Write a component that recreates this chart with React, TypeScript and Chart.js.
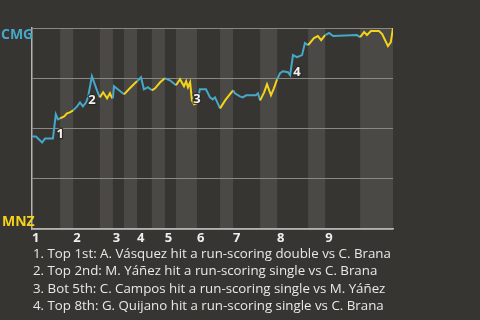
import React, { useEffect, useRef } from "react";
import { Chart, registerables } from "chart.js";

Chart.register(...registerables);

// Play progress (0..100 across the game) and CMG win probability (%)
const playX = [
  0, 1.1, 2.8, 3.6, 5.8, 6.6, 7.2, 7.8, 8.9, 9.7, 10.5, 11.4, 12.5, 13.3, 14.1, 15.0, 15.5, 16.6, 18.0,
  18.8, 19.7, 20.8, 21.6, 22.2, 22.4, 22.7, 24.1, 25.5, 27.1, 28.5, 29.1, 30.2, 31.0, 32.1, 33.2, 34.1,
  35.5, 36.8, 38.2, 39.9, 41.0, 42.1, 42.7, 43.2, 43.8, 44.3, 44.9, 45.7, 46.5, 48.2, 49.3, 50.1, 50.7,
  52.1, 53.5, 54.8, 55.7, 56.2, 57.6, 58.4, 59.3, 62.0, 62.6, 63.2, 64.3, 65.1, 66.2, 67.0, 67.9, 68.7,
  69.5, 70.9, 71.5, 72.3, 73.4, 74.8, 75.6, 76.5, 78.1, 79.2, 80.1, 81.2, 82.3, 83.4, 90.0, 90.9, 92.0,
  92.8, 93.9, 96.1, 97.0, 98.6, 99.4, 100,
];
const winProbCMG = [
  46, 46, 43, 45, 45, 57, 54.5, 55, 56, 57.5, 58, 59, 61, 63, 61, 63, 65.5, 76, 69,
  65.5, 68, 65, 67.5, 65, 65, 71, 69, 67, 70, 72.5, 73.5, 75.5, 69.5, 70.5, 69, 70,
  73, 75, 74, 71.5, 74.5, 71, 73.5, 70.5, 73, 64, 62, 62.5, 69.5, 69.5, 65.5, 64.5, 65.5,
  60, 64, 67, 69, 67.5, 66, 65.5, 66.5, 66.5, 67.5, 64, 68, 72, 66.5, 70, 74.5, 77.5,
  78.5, 78, 76.5, 86.5, 85.5, 86.5, 92.5, 91.5, 95, 96, 94, 96.5, 97.5, 96, 96.5, 95.5, 98,
  96.5, 98.5, 98.5, 97, 91, 93, 100,
];

// Half innings (bottom halves are shaded)
const bottomHalfStart = [7.8, 18.8, 25.5, 33.2, 39.9, 52.1, 63.2, 76.5, 90.9];
const bottomHalfEnd = [11.4, 22.4, 29.1, 36.8, 45.7, 55.7, 67.9, 81.2, 100];
const inningStart = [0, 11.4, 22.4, 29.1, 36.8, 45.7, 55.7, 67.9, 81.2];
const inningLabels = ["1", "2", "3", "4", "5", "6", "7", "8", "9"];

const teamTop = "CMG";
const teamBottom = "MNZ";

// Scoring events
const eventLabels = ["1", "2", "3", "4"];
const eventX = [7.8, 16.6, 45.7, 73.4];
const eventY = [47, 64, 64.5, 78];
const eventNotes = [
  "1. Top 1st: A. Vásquez hit a run-scoring double vs C. Brana",
  "2. Top 2nd: M. Yáñez hit a run-scoring single vs C. Brana",
  "3. Bot 5th: C. Campos hit a run-scoring single vs M. Yáñez",
  "4. Top 8th: G. Quijano hit a run-scoring single vs C. Brana",
];

const BG = "#373532";
const BAND = "#4b4946";
const BLUE = "#45a8c8";
const YELLOW = "#f5d31a";
const GRID = "#8a8885";
const AXIS = "#b5b3b0";
const FONT = "'Open Sans', 'Noto Sans', sans-serif";

function inBottom(v: number) {
  for (let i = 0; i < bottomHalfStart.length; i++) {
    if (v >= bottomHalfStart[i] && v <= bottomHalfEnd[i]) return true;
  }
  return false;
}

const overlayPlugin = {
  id: "overlay",
  beforeDraw(chart: any) {
    const { ctx, chartArea, scales } = chart;
    const x = scales.x;
    ctx.save();
    ctx.fillStyle = BAND;
    bottomHalfStart.forEach((s, i) => {
      const x0 = x.getPixelForValue(s);
      const x1 = x.getPixelForValue(bottomHalfEnd[i]);
      ctx.fillRect(x0, chartArea.top, x1 - x0, chartArea.bottom - chartArea.top);
    });
    ctx.restore();
  },
  afterDatasetsDraw(chart: any) {
    const { ctx, scales } = chart;
    const x = scales.x;
    const y = scales.y;
    ctx.save();
    ctx.font = `bold 14px ${FONT}`;
    ctx.textBaseline = "middle";
    ctx.textAlign = "left";
    ctx.fillStyle = BLUE;
    ctx.fillText(teamTop, 1, y.getPixelForValue(100) + 7);
    ctx.fillStyle = YELLOW;
    ctx.fillText(teamBottom, 2, y.getPixelForValue(0) - 7);

    ctx.textAlign = "center";
    ctx.font = `bold 13px ${FONT}`;
    eventLabels.forEach((lab, i) => {
      const px = x.getPixelForValue(eventX[i]);
      const py = y.getPixelForValue(eventY[i]);
      ctx.lineWidth = 2.5;
      ctx.strokeStyle = "rgba(40,38,36,0.85)";
      ctx.strokeText(lab, px, py);
      ctx.fillStyle = "#f2f2f2";
      ctx.fillText(lab, px, py);
    });
    ctx.restore();
  },
};

export default function App() {
  const ref = useRef<HTMLCanvasElement | null>(null);

  useEffect(() => {
    if (!ref.current) return;
    const data = playX.map((v, i) => ({ x: v, y: winProbCMG[i] }));
    const chart = new Chart(ref.current, {
      type: "line",
      data: {
        datasets: [
          {
            data,
            borderWidth: 2,
            pointRadius: 0,
            tension: 0,
            borderColor: BLUE,
            segment: {
              borderColor: (c: any) =>
                inBottom((c.p0.parsed.x + c.p1.parsed.x) / 2) ? YELLOW : BLUE,
            },
          },
        ],
      },
      options: {
        animation: false,
        responsive: false,
        events: [],
        layout: { padding: { top: 28, right: 87, bottom: 69, left: 0 } },
        plugins: { legend: { display: false }, tooltip: { enabled: false } },
        scales: {
          x: {
            type: "linear",
            min: 0,
            max: 100,
            afterBuildTicks: (scale: any) => {
              scale.ticks = inningStart.map((v) => ({ value: v }));
            },
            afterFit: (scale: any) => {
              scale.height = 22;
            },
            grid: { display: false, drawTicks: false },
            border: { display: true, color: AXIS, width: 1.5 },
            ticks: {
              autoSkip: false,
              maxRotation: 0,
              align: "start",
              padding: 1,
              color: "#eeeeee",
              font: { family: FONT, size: 13, weight: "bold" },
              callback: (_v: any, i: number) => inningLabels[i],
            },
          },
          y: {
            min: 0,
            max: 100,
            afterBuildTicks: (scale: any) => {
              scale.ticks = [0, 25, 50, 75, 100].map((v) => ({ value: v }));
            },
            afterFit: (scale: any) => {
              scale.width = 32;
            },
            grid: { color: GRID, lineWidth: 1, drawTicks: false },
            border: { display: true, color: AXIS, width: 1.5 },
            ticks: { display: false },
          },
        },
      },
      plugins: [overlayPlugin],
    } as any);
    return () => chart.destroy();
  }, []);

  return (
    <div
      style={{
        position: "fixed",
        left: 0,
        top: 0,
        width: 480,
        height: 320,
        background: BG,
        overflow: "hidden",
      }}
    >
      <canvas ref={ref} width={480} height={320} style={{ display: "block", width: 480, height: 320 }} />
      <div
        style={{
          position: "absolute",
          left: 33,
          top: 245,
          fontFamily: FONT,
          fontSize: 13.3,
          lineHeight: "17.3px",
          color: "#e8e8e8",
          whiteSpace: "nowrap",
        }}
      >
        {eventNotes.map((n) => (
          <div key={n}>{n}</div>
        ))}
      </div>
    </div>
  );
}
